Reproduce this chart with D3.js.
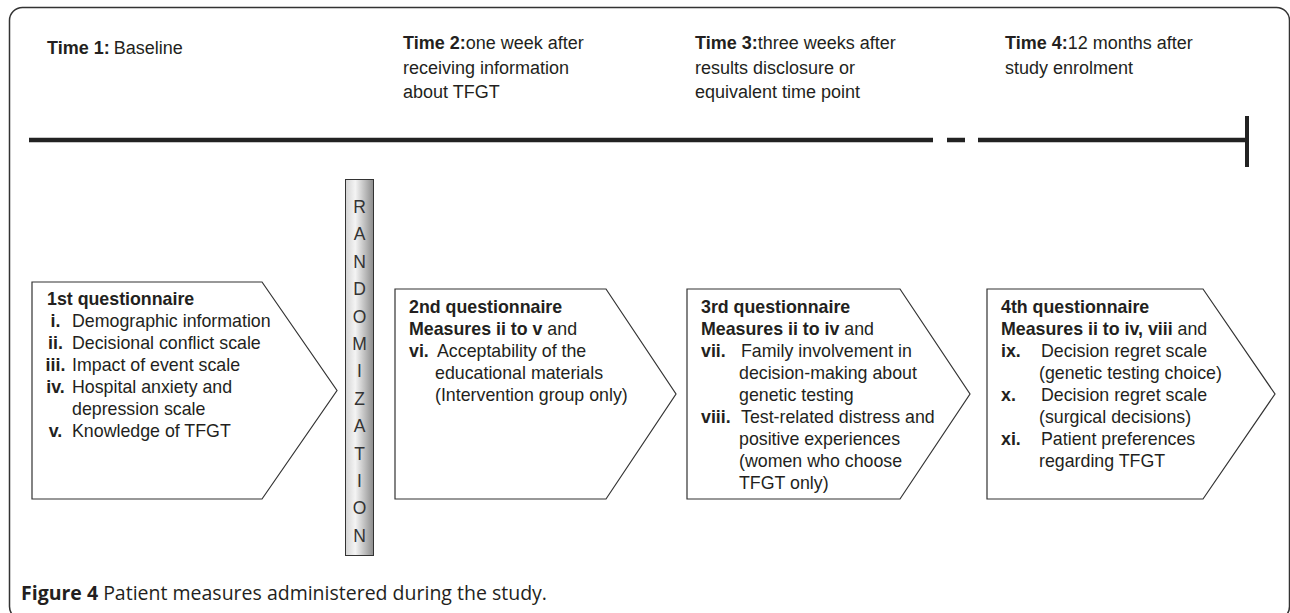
<!DOCTYPE html>
<html>
<head>
<meta charset="utf-8">
<script src="https://cdn.jsdelivr.net/npm/d3@7"></script>
<style>
  body { margin: 0; background: #fff; }
  svg { display: block; }
</style>
</head>
<body>
<div id="fig"></div>
<script>
// ---- content ----
const timeTitles = ["Time 1:", "Time 2:", "Time 3:", "Time 4:"];
const timeNotes = [
    ["Baseline"],
    ["one week after", "receiving information", "about TFGT"],
    ["three weeks after", "results disclosure or", "equivalent time point"],
    ["12 months after", "study enrolment"]
];

const boxTitles = ["1st questionnaire", "2nd questionnaire", "3rd questionnaire", "4th questionnaire"];
const boxMeasures = [null, "Measures ii to v", "Measures ii to iv", "Measures ii to iv, viii"];
const boxItems = [
    [["i.", "Demographic information"], ["ii.", "Decisional conflict scale"], ["iii.", "Impact of event scale"],
     ["iv.", "Hospital anxiety and"], ["", "depression scale"], ["v.", "Knowledge of TFGT"]],
    [["vi.", "Acceptability of the"], ["", "educational materials"], ["", "(Intervention group only)"]],
    [["vii.", "Family involvement in"], ["", "decision-making about"], ["", "genetic testing"],
     ["viii.", "Test-related distress and"], ["", "positive experiences"], ["", "(women who choose"], ["", "TFGT only)"]],
    [["ix.", "Decision regret scale"], ["", "(genetic testing choice)"], ["x.", "Decision regret scale"],
     ["", "(surgical decisions)"], ["xi.", "Patient preferences"], ["", "regarding TFGT"]]
];

const randomLetters = "RANDOMIZATION".split("");
const captionBold = "Figure 4";
const captionText = "Patient measures administered during the study.";

// ---- layout ----
const width = 1290, height = 613;
const ink = "#231f20";
const font = "'Liberation Sans', Arial, Helvetica, sans-serif";
const boxFont = 17.8;

const stageX = [47, 403, 695, 1005];
const stageY = [54, 49, 49, 49];
const boxes = [
    {x0: 32,  x1: 262,  tip: 337,  y0: 282, y1: 499, tx: 47,   numX: 55.5, anchor: "middle", textX: 72,   contX: 72,   y: 305},
    {x0: 395, x1: 606,  tip: 676,  y0: 289, y1: 499, tx: 409,  numX: 409,  anchor: "start",  textX: 437,  contX: 435,  y: 313},
    {x0: 687, x1: 900,  tip: 970,  y0: 289, y1: 499, tx: 701,  numX: 701,  anchor: "start",  textX: 741,  contX: 739,  y: 313},
    {x0: 987, x1: 1203, tip: 1275, y0: 289, y1: 499, tx: 1001, numX: 1001, anchor: "start",  textX: 1041, contX: 1039, y: 313}
];
const lineStep = 22;

const svg = d3.select("#fig")
    .append("svg")
    .attr("width", width)
    .attr("height", height)
    .style("font-family", font);

// gradient for the randomization bar
const grad = svg.append("defs").append("linearGradient")
    .attr("id", "barGrad")
    .attr("x1", "0%").attr("x2", "100%").attr("y1", "0%").attr("y2", "0%");
grad.append("stop").attr("offset", "0%").attr("stop-color", "#d4d4d4");
grad.append("stop").attr("offset", "35%").attr("stop-color", "#f4f4f4");
grad.append("stop").attr("offset", "100%").attr("stop-color", "#8c8c8c");

// outer frame
svg.append("rect")
    .attr("x", 9.5).attr("y", 7.5)
    .attr("width", 1280).attr("height", 612)
    .attr("rx", 13)
    .attr("fill", "none")
    .attr("stroke", "#333")
    .attr("stroke-width", 1.5);

// stage labels
const stages = svg.append("g")
    .selectAll("text")
    .data(timeTitles)
    .join("text")
    .attr("x", (d, i) => stageX[i])
    .attr("y", (d, i) => stageY[i])
    .attr("font-size", 18)
    .attr("fill", ink);

stages.each(function (d, i) {
    const t = d3.select(this);
    t.append("tspan").attr("font-weight", "bold").text(d);
    timeNotes[i].forEach((line, j) => {
        const sp = t.append("tspan").text(line);
        if (j === 0) {
            sp.attr("dx", i === 0 ? 4 : 0);
        } else {
            sp.attr("x", stageX[i]).attr("dy", 24.5);
        }
    });
});

// timeline
const lineY = 140;
const segs = [[29, 933], [947, 965], [978, 1247]];
svg.append("g")
    .selectAll("line")
    .data(segs)
    .join("line")
    .attr("x1", d => d[0])
    .attr("x2", d => d[1])
    .attr("y1", lineY)
    .attr("y2", lineY)
    .attr("stroke", "#222")
    .attr("stroke-width", 4.5);

svg.append("line")
    .attr("x1", 1247).attr("x2", 1247)
    .attr("y1", 116).attr("y2", 167)
    .attr("stroke", "#222")
    .attr("stroke-width", 4);

// randomization bar
svg.append("rect")
    .attr("x", 345.5).attr("y", 179.5)
    .attr("width", 28).attr("height", 376)
    .attr("fill", "url(#barGrad)")
    .attr("stroke", "#333")
    .attr("stroke-width", 1);

svg.append("g")
    .selectAll("text")
    .data(randomLetters)
    .join("text")
    .attr("x", 359.5)
    .attr("y", (d, i) => 213 + i * 27.4)
    .attr("text-anchor", "middle")
    .attr("font-size", 17.5)
    .attr("fill", "#333")
    .text(d => d);

// questionnaire boxes (arrow-shaped)
const outline = d3.line();
const boxG = svg.append("g")
    .selectAll("g")
    .data(boxes)
    .join("g");

boxG.append("path")
    .attr("d", b => outline([
        [b.x0, b.y0], [b.x1, b.y0], [b.tip, (b.y0 + b.y1) / 2],
        [b.x1, b.y1], [b.x0, b.y1]
    ]) + "Z")
    .attr("fill", "#fff")
    .attr("stroke", "#333")
    .attr("stroke-width", 1.2);

boxG.each(function (b, i) {
    const g = d3.select(this);
    let y = b.y;

    g.append("text")
        .attr("x", b.tx).attr("y", y)
        .attr("font-size", boxFont).attr("font-weight", "bold").attr("fill", ink)
        .text(boxTitles[i]);

    if (boxMeasures[i]) {
        y += lineStep;
        const m = g.append("text")
            .attr("x", b.tx).attr("y", y)
            .attr("font-size", boxFont).attr("fill", ink);
        m.append("tspan").attr("font-weight", "bold").text(boxMeasures[i]);
        m.append("tspan").text(" and");
    }

    boxItems[i].forEach(function (item) {
        y += lineStep;
        if (item[0]) {
            g.append("text")
                .attr("x", b.numX).attr("y", y)
                .attr("text-anchor", b.anchor)
                .attr("font-size", boxFont).attr("font-weight", "bold").attr("fill", ink)
                .text(item[0]);
        }
        g.append("text")
            .attr("x", item[0] ? b.textX : b.contX).attr("y", y)
            .attr("font-size", boxFont).attr("fill", ink)
            .text(item[1]);
    });
});

// caption
const cap = svg.append("text")
    .attr("x", 21).attr("y", 600)
    .attr("font-family", "'Open Sans', 'Noto Sans', sans-serif")
    .attr("font-size", 19.5)
    .attr("fill", ink);
cap.append("tspan").attr("font-weight", "bold").text(captionBold);
cap.append("tspan").text(" " + captionText);
</script>
</body>
</html>
